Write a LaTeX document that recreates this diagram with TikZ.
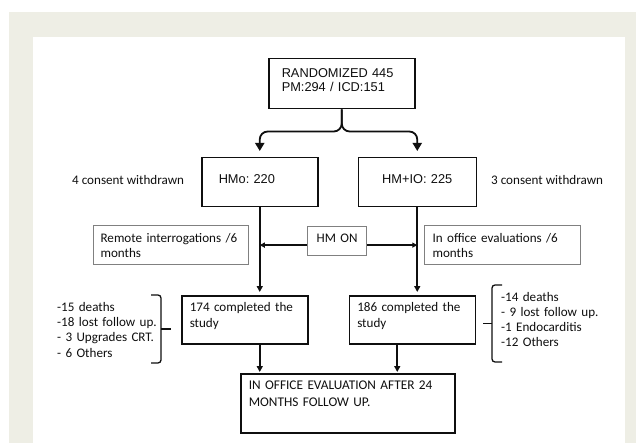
\documentclass[tikz,border=0pt]{standalone}
\usepackage{fontspec}
\setmainfont{Carlito}
\newfontfamily\arialfont{Liberation Sans}
\usepackage{xcolor}
\usetikzlibrary{arrows.meta,positioning}
\definecolor{panelbg}{RGB}{238,238,229}
\definecolor{boxgray}{RGB}{128,128,128}
\definecolor{ink}{RGB}{15,15,15}
\frenchspacing

\begin{document}
\begin{tikzpicture}[x=1pt,y=-1pt,>={Triangle[width=6pt,length=6pt]},
  font=\fontsize{13.1}{15.4}\selectfont,text=ink,
  box/.style={draw=ink,line width=1.5pt,inner xsep=8pt,inner ysep=0pt,align=left,anchor=north west},
  graybox/.style={box,draw=boxgray,line width=1.2pt},
  headbox/.style={box,font=\arialfont\fontsize{12.8}{14}\selectfont},
  conn/.style={draw=ink,line width=1.8pt},
  bracket/.style={draw=ink,line width=1.3pt}]
\useasboundingbox (0,0) rectangle (636,443);
\fill[white] (0,0) rectangle (636,443);
\fill[panelbg] (9,12) rectangle (636,443);
\fill[white] (33,37) rectangle (625,443);

% top of the flow
\node[headbox,inner xsep=13pt,text width=120pt,text height=19pt,text depth=31pt] (rand) at (268,58) {RANDOMIZED 445\\PM:294 / ICD:151};
\node[headbox,inner xsep=17pt,text width=82pt,text height=26pt,text depth=23pt] (hmo) at (201,157) {HMo: 220};
\node[headbox,align=center,inner xsep=4pt,text width=110pt,text height=26pt,text depth=23pt,right=39pt of hmo] (hmio) {HM+IO: 225};
\node[anchor=base west,inner sep=0pt] (wdl) at (72,185) {4 consent withdrawn};
\node[anchor=base west,inner sep=0pt] (wdr) at (491,185) {3 consent withdrawn};

% follow up boxes
\node[graybox,inner xsep=7pt,text width=141pt,text height=17pt,text depth=22pt] (remote) at (93,225) {Remote interrogations~/6\\months};
\node[graybox,align=center,inner xsep=2pt,text width=55pt,text height=16pt,text depth=13pt] (hmon) at (307,226) {HM ON};
\node[graybox,text width=140pt,text height=17pt,text depth=22pt] (inoff) at (424,225) {In office evaluations~/6\\months};

\node[box,text width=110pt,text height=16pt,text depth=32pt] (done174) at (181,295) {174 completed the\\study};
\node[box,text width=110pt,text height=16pt,text depth=32pt,right=40pt of done174] (done186) {186 completed the\\study};
\node[box,text width=198pt,text height=16pt,text depth=43pt,font=\fontsize{13.3}{16.7}\selectfont] (final) at (240,373) {IN OFFICE EVALUATION AFTER 24\\MONTHS FOLLOW UP.};

\node[anchor=base west,inner sep=0pt,text width=110pt,align=left] (lossl) at (57,311) {-15 deaths\\-18 lost follow up.\\- 3 Upgrades CRT.\\- 6 Others};
\node[anchor=base west,inner sep=0pt,text width=110pt,align=left,font=\fontsize{13.1}{15.2}\selectfont] (lossr) at (501,301) {-14 deaths\\- 9 lost follow up.\\-1 Endocarditis\\-12 Others};

% connectors
\draw[conn,->,>={Triangle[width=9pt,length=8pt]},rounded corners=8pt,shorten >=6pt] (rand.south) -- ++(0,22) -| (hmo.north);
\draw[conn,->,>={Triangle[width=9pt,length=8pt]},rounded corners=8pt,shorten >=6pt] (rand.south) -- ++(0,22) -| (hmio.north);
\draw[conn,->,shorten >=3pt] (hmo.south) -- (done174.north -| hmo.south);
\draw[conn,->,shorten >=3pt] (hmio.south) -- (done186.north -| hmio.south);
\draw[conn,->,line width=1.6pt,>={Triangle[width=5pt,length=5pt]}] ([yshift=-4pt]hmon.west) -- ([yshift=-4pt]hmon.west -| hmo.south);
\draw[conn,->,line width=1.6pt,>={Triangle[width=5pt,length=5pt]}] ([yshift=-4pt]hmon.east) -- ([yshift=-4pt]hmon.east -| hmio.south);
\coordinate (m186) at ([xshift=-15pt]done186.south);
\draw[conn,->,shorten >=1pt] (done174.south -| hmo.south) -- (final.north -| hmo.south);
\draw[conn,->,shorten >=1pt] (m186) -- (m186 |- final.north);

% brackets
\draw[bracket,rounded corners=3pt] (151,295) -| (161,363) -- (151,363);
\draw[bracket] (161,329) -- (171,329);
\draw[bracket,rounded corners=3pt] (502,285) -| (492,362) -- (502,362);
\draw[bracket] (492,323.5) -- (483,323.5);
\end{tikzpicture}
\end{document}
